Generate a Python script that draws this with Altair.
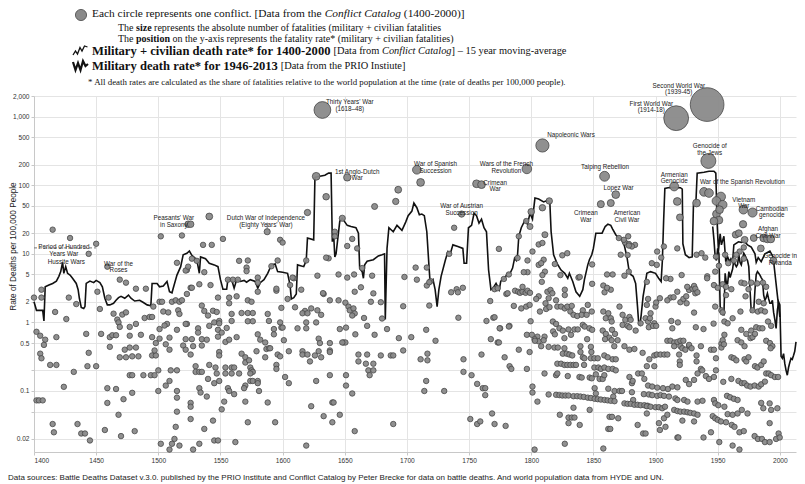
import altair as alt
import pandas as pd

# ---------------- data ----------------
# Large / labelled conflicts: (year, death rate per 100,000, fatalities in millions)
major = [
    (1941.5, 1500, 66), (1916.6, 950, 35), (1632, 1250, 15), (1809, 380, 8.6),
    (1942.5, 226, 11.6), (1796.5, 173, 3.7), (1859, 135, 4.0), (1708, 168, 2.7),
    (1652, 130, 1.4), (1627, 135, 1.8), (1711, 110, 1.8), (1915, 96, 2.9),
    (1939, 80, 2.7), (1943, 77, 2.7), (1970.7, 44, 2.7), (1978, 40, 3.2),
    (1744, 38, 0.6), (1756, 105, 1.8), (1760, 102, 1.8), (1856, 53, 1.2),
    (1864, 55, 1.2), (1868, 73, 1.8), (1541, 35, 1.0), (1524, 27, 0.8), (1526, 27, 0.8),
    (1693, 86, 1.0), (1691, 58, 0.6), (1674, 49, 0.4), (1635, 68, 0.8), (1620, 40, 0.6),
    (1648, 33, 0.5), (1800, 41, 0.8), (1814.5, 59, 0.7), (1809, 47, 0.7),
    (1917.5, 58, 1.8), (1919.6, 34, 1.0), (1933, 55, 1.8), (1949, 59, 2.7),
    (1952.6, 68, 3.2), (1954, 52, 2.7), (1949, 38, 1.8), (1951.5, 44, 1.8),
    (1951, 31, 1.8), (1947, 30, 1.8), (1970.4, 27, 1.4), (1964.5, 19, 1.0),
    (1967, 20, 1.0), (1987, 17, 1.8), (1990, 16.5, 1.8), (1992.7, 16.5, 1.8),
    (1984.7, 12, 1.0), (1994.8, 8, 1.0), (1979, 17, 1.0), (1971.7, 16, 1.0),
    (1587.6, 21, 0.5), (1799, 25, 0.4), (1811, 19, 0.4),
]

# Small conflicts: (year, death rate per 100,000)
minor_1400s = [
    (1450, 14), (1444, 10), (1515, 7.4), (1523, 5.8), (1469, 4.2), (1474, 3.8), (1459, 6.5),
    (1406, 3), (1400, 2.3), (1406, 2.3), (1428, 2.3), (1451, 2.8), (1460, 2.3), (1482, 3.1),
    (1490, 3.1), (1434, 1.85), (1417, 1.42), (1426, 1.12), (1453, 1.57), (1464, 1.34),
    (1471, 1.3), (1474, 1.4), (1467, 1.1), (1468, 1.0), (1469, 0.86), (1477, 0.86),
    (1482, 0.95), (1489, 1.16), (1493, 1.2), (1495, 1.2), (1496, 1.7), (1501, 2), (1503, 2),
    (1511, 2), (1514, 2.1), (1517, 2), (1519, 2.1), (1504, 1.44), (1508, 1.4), (1516, 1.5),
    (1517, 1.33), (1501, 0.8), (1507, 0.95), (1505, 0.9), (1515, 0.78), (1523, 0.95),
    (1402, 0.73), (1405, 0.64), (1409, 0.56), (1408, 0.47), (1418, 0.61), (1442, 0.68),
    (1454, 0.68), (1461, 0.61), (1463, 0.65), (1466, 0.65), (1477, 0.64), (1486, 0.66),
    (1495, 0.61), (1501, 0.58), (1509, 0.6), (1461, 0.44), (1473, 0.4), (1477, 0.43),
    (1482, 0.43), (1405, 0.35), (1406, 0.3), (1469, 0.31), (1474, 0.31), (1479, 0.32),
    (1484, 0.32), (1495, 0.33), (1498, 0.33), (1497, 0.39), (1498, 0.5), (1506, 0.48),
    (1509, 0.4), (1520, 0.46), (1444, 0.36), (1413, 0.24), (1418, 0.24), (1443, 0.23),
    (1450, 0.23), (1432, 0.19), (1477, 0.17), (1479, 0.17), (1488, 0.17), (1494, 0.17),
    (1497, 0.17), (1500, 0.2), (1510, 0.2), (1515, 0.2), (1424, 0.115), (1459, 0.11),
    (1466, 0.107), (1500, 0.1), (1506, 0.12), (1509, 0.14), (1515, 0.1), (1515, 0.08),
    (1402, 0.073), (1404, 0.073), (1407, 0.073), (1472, 0.076), (1479, 0.094), (1459, 0.067),
    (1468, 0.045), (1515, 0.05), (1415, 0.033), (1435, 0.033), (1416, 0.025), (1438, 0.024),
    (1441, 0.024), (1445, 0.019), (1457, 0.027), (1470, 0.022), (1481, 0.026), (1514, 0.03),
    (1513, 0.02), (1502, 0.017), (1511, 0.017), (1517, 0.016), (1509, 0.014),
    (1415, 22.5), (1429, 17), (1502, 18), (1519, 18.5), (1522, 5.7), (1524, 6.5),
]

minor_1500s = [
    (1527, 8.5), (1531, 7.9), (1536, 13.5), (1543, 13.5), (1537, 5.4), (1533, 3.6),
    (1552, 16.5), (1565, 7.9), (1572, 8), (1571, 6.3), (1571, 5.6), (1556, 4.2), (1560, 4.2),
    (1564, 4.2), (1580, 4.5), (1598, 16), (1600, 14.6), (1596, 8), (1591, 6.6), (1542, 3.5),
    (1526, 3.2), (1527, 3.2), (1523, 2.6), (1580, 3.8), (1580, 2.8), (1595, 2.9), (1595, 3.1),
    (1557, 2.3), (1557, 1.9), (1548, 2.3), (1563, 2.4), (1572, 2.1), (1575, 2.0), (1599, 1.63),
    (1535, 1.76), (1537, 1.47), (1540, 1.26), (1544, 1.48), (1547, 1.42), (1559, 1.33),
    (1559, 1.05), (1567, 1.37), (1572, 1.37), (1576, 1.37), (1572, 1.04), (1576, 1.04),
    (1588, 1.33), (1589, 1.05), (1598, 1.0), (1522, 0.95), (1532, 0.82), (1532, 0.71),
    (1541, 0.89), (1545, 1.0), (1549, 1.05), (1549, 0.97), (1548, 0.78), (1555, 0.83),
    (1551, 0.71), (1548, 0.62), (1593, 0.8), (1593, 0.67), (1599, 0.84), (1580, 0.67),
    (1582, 0.56), (1586, 0.51), (1587, 0.41), (1589, 0.42), (1590, 0.42), (1579, 0.38),
    (1586, 0.31), (1596, 0.34), (1598, 0.32), (1522, 0.57), (1527, 0.57), (1535, 0.57),
    (1539, 0.56), (1535, 0.46), (1522, 0.4), (1526, 0.34), (1528, 0.45), (1549, 0.37),
    (1549, 0.33), (1554, 0.52), (1557, 0.56), (1563, 0.61), (1567, 0.35), (1570, 0.31),
    (1570, 0.26), (1573, 0.28), (1574, 0.22), (1575, 0.2), (1576, 0.19), (1574, 0.18),
    (1530, 0.23), (1530, 0.19), (1533, 0.19), (1535, 0.19), (1541, 0.24), (1546, 0.22),
    (1547, 0.18), (1554, 0.22), (1554, 0.18), (1559, 0.22), (1561, 0.22), (1559, 0.18),
    (1565, 0.18), (1540, 0.15), (1545, 0.13), (1549, 0.14), (1533, 0.11), (1534, 0.095),
    (1539, 0.083), (1556, 0.11), (1557, 0.1), (1561, 0.09), (1570, 0.12), (1569, 0.11),
    (1574, 0.14), (1576, 0.14), (1580, 0.14), (1580, 0.13), (1581, 0.1), (1570, 0.07),
    (1588, 0.068), (1595, 0.24), (1595, 0.21), (1526, 0.067), (1526, 0.059), (1553, 0.07),
    (1551, 0.054), (1526, 0.039), (1544, 0.037), (1572, 0.035), (1594, 0.035), (1537, 0.028),
    (1533, 0.017), (1545, 0.019), (1548, 0.019), (1562, 0.018), (1528, 0.014),
]

minor_1600s = [
    (1637, 8.6), (1628, 4.8), (1645, 5), (1609, 4.4), (1604, 2.2), (1610, 1.66), (1615, 3),
    (1633, 2.6), (1638, 2.1), (1645, 2.1), (1618, 1.47), (1616, 1.36), (1620, 1.36),
    (1623, 1.6), (1628, 1.5), (1631, 1.29), (1612, 0.82), (1619, 0.82), (1619, 1.0),
    (1627, 1.0), (1600, 0.84), (1646, 0.8), (1649, 0.51), (1629, 0.58), (1630, 0.5),
    (1638, 0.5), (1638, 0.39), (1638, 0.37), (1601, 0.55), (1605, 0.38), (1616, 0.38),
    (1616, 0.34), (1620, 0.34), (1626, 0.33), (1629, 0.38), (1631, 0.31), (1622, 0.27),
    (1602, 0.16), (1605, 0.13), (1627, 0.14), (1638, 0.17), (1651, 0.17), (1640, 0.068),
    (1641, 0.068), (1623, 0.06), (1633, 0.043), (1640, 0.035), (1646, 0.045), (1619, 0.016),
    (1632.5, 2.67), (1606, 3.5), (1608, 4.5), (1619, 8), (1642, 21), (1642, 18), (1635, 8.8),
    (1652, 13), (1656, 16.5), (1660, 12), (1652, 4.5), (1657.5, 5), (1664, 6.2), (1672, 4.8),
    (1698, 4.6), (1658, 2.8), (1663, 3.25), (1650.5, 1.94), (1653, 1.7), (1654, 1.5),
    (1657, 1.6), (1658, 1.35), (1656, 1.26), (1671, 2), (1673, 2.65), (1679, 1.97),
    (1665.5, 1.16), (1668, 0.89), (1680, 1.14), (1684, 0.8), (1697, 1.72), (1651, 0.84),
    (1650.5, 0.51), (1648, 0.51), (1658.5, 0.67), (1674, 0.66), (1693.5, 0.59), (1697, 0.39),
    (1661, 0.34), (1661, 0.27), (1668, 0.34), (1667, 0.25), (1673, 0.25), (1679, 0.33),
    (1687, 0.33), (1689, 0.33), (1669, 0.2), (1673, 0.2), (1670, 0.17), (1651, 0.12),
    (1656, 0.092), (1658, 0.026), (1689, 0.033),
]

minor_1700s = [
    (1707, 6.3), (1708, 4.2), (1716, 6.3), (1719, 4), (1738, 24), (1734, 10), (1774, 11.8),
    (1790, 18), (1789, 8.7), (1797, 8), (1797, 5.4), (1778, 4.3), (1782, 5), (1796, 30),
    (1716, 3.45), (1718, 3.85), (1718, 1.76), (1703.5, 0.61), (1715.5, 0.78), (1723, 0.54),
    (1711, 0.29), (1716.5, 0.35), (1716.5, 0.28), (1715.5, 0.14), (1714, 0.1), (1730, 0.1),
    (1745.5, 0.29), (1745.5, 0.19), (1752, 0.17), (1756.5, 0.127), (1761, 0.11), (1763, 0.11),
    (1763, 0.087), (1760, 0.34), (1764, 1.05), (1769.5, 1.17), (1767, 2.05), (1767.5, 0.57),
    (1773, 0.51), (1770.5, 3.05), (1751, 0.039), (1756.5, 0.033), (1759, 0.036),
    (1768.5, 0.047), (1770.5, 0.033), (1735.6, 2.75), (1740, 3.05), (1741, 2.75), (1745, 3.2),
    (1741.4, 1.17), (1780, 2.6), (1775, 0.82), (1782.5, 0.89), (1773, 3.15), (1781, 2.66),
    (1787, 2.9), (1789.5, 2.8), (1791, 2.7), (1793, 2.8), (1795.5, 2.7), (1797, 2.9),
    (1799, 2.7), (1793, 3.3), (1794, 5.4), (1786, 1.74), (1792, 1.6), (1796, 1.7),
    (1798.7, 1.8), (1774.6, 0.82), (1782, 0.87), (1770.5, 1.19), (1799.5, 1.04),
    (1796.5, 0.66), (1779.4, 0.031), (1774, 0.51), (1778.6, 0.31), (1782.6, 0.23),
    (1784, 0.21), (1790, 0.4), (1796.5, 0.21), (1798.7, 0.37),
]

minor_1800s = [
    (1801, 10.8), (1806, 13.7), (1809, 14.4), (1810, 8.2), (1806, 6.9), (1808, 7.3),
    (1811, 5.5), (1809, 4.9), (1819, 7.1), (1825, 9.5), (1829, 10.2), (1823.5, 4.9),
    (1838, 4.5), (1849, 7), (1849, 3.65), (1858, 3.45), (1861, 5), (1865.5, 5), (1864, 3),
    (1859, 2.75), (1875.5, 14.6), (1878.6, 13.9), (1883.5, 13.5), (1881, 12.8),
    (1877.5, 9.6), (1806, 2.4), (1804, 2.2), (1808.5, 3.9), (1813, 2.8), (1815.5, 2.97),
    (1817, 2.66), (1811.5, 1.9), (1814, 2.25), (1812, 1.57), (1814.7, 1.67), (1807, 1.44),
    (1820, 2.1), (1821, 1.7), (1824, 1.7), (1827, 1.6), (1829, 1.7), (1832.6, 1.74),
    (1827, 2.5), (1827, 3), (1831.5, 1.44), (1834, 1.29), (1837, 1.24), (1841.5, 1.5),
    (1840.6, 1.29), (1845.5, 1.8), (1848.7, 1.44), (1844.6, 1.29), (1858, 1.44),
    (1860, 1.15), (1862, 1.36), (1864, 1.15), (1864.7, 1.03), (1871, 1.7), (1873.5, 1.29),
    (1875.7, 1.09), (1879, 1.2), (1880, 1.09), (1873.5, 0.92), (1877.5, 0.89), (1879, 0.85),
    (1884, 0.76), (1892, 1.15), (1894, 1.03), (1817.4, 1.03), (1820, 0.95), (1822.7, 0.82),
    (1825.4, 0.76), (1830, 0.79), (1834.8, 0.79), (1837.4, 0.79), (1841.5, 0.92),
    (1843, 0.87), (1846.8, 0.82), (1849, 0.78), (1845, 0.57), (1817.6, 0.74), (1819, 0.67),
    (1826.7, 0.59), (1832, 0.66), (1805, 0.62), (1810.7, 0.62), (1802.7, 0.57),
    (1806, 0.53), (1808, 0.45), (1810, 0.55), (1814, 0.44), (1818.7, 0.43), (1821.4, 0.43),
    (1826.7, 0.42), (1825.4, 0.35), (1828.6, 0.35), (1830.7, 0.34), (1833, 0.33),
    (1839.6, 0.45), (1839.6, 0.37), (1848, 0.44), (1848.4, 0.37), (1841.5, 0.31),
    (1842.8, 0.3), (1848, 0.3), (1850.8, 0.3), (1853.5, 0.3), (1857.5, 0.76), (1860, 0.68),
    (1862.8, 0.6), (1864.7, 0.55), (1859.4, 0.57), (1865, 0.78), (1867.4, 0.68),
    (1869.5, 0.55), (1866.8, 0.45), (1858.8, 0.33), (1861.5, 0.31), (1865.5, 0.29),
    (1868, 0.29), (1875, 0.45), (1879, 0.4), (1883, 0.41), (1889.6, 0.36), (1893, 0.23),
    (1895, 0.29), (1821, 0.25), (1824, 0.25), (1826.7, 0.24), (1829, 0.24), (1831.5, 0.24),
    (1834, 0.24), (1836, 0.24), (1842.5, 0.24), (1820, 0.17), (1829.4, 0.165),
    (1838.8, 0.16), (1840.6, 0.157), (1847, 0.157), (1848.7, 0.153), (1850.8, 0.22),
    (1854, 0.22), (1856, 0.21), (1858.8, 0.22), (1862, 0.21), (1865.5, 0.21), (1868, 0.2),
    (1852, 0.175), (1855, 0.15), (1857.5, 0.15), (1858.8, 0.17), (1879, 0.16), (1881, 0.13),
    (1881.6, 0.14), (1886, 0.18), (1889, 0.18), (1862, 0.108), (1866, 0.083), (1867, 0.1),
    (1871, 0.1), (1873, 0.1), (1851, 0.11), (1852, 0.092), (1810.7, 0.18), (1821, 0.18),
    (1801, 0.116), (1801, 0.095), (1805, 0.07), (1881, 0.096), (1882, 0.074),
    (1814, 0.089), (1820, 0.088), (1822.7, 0.087), (1825, 0.086), (1827.5, 0.086),
    (1830, 0.086), (1834, 0.084), (1837, 0.084), (1839.6, 0.083), (1842.3, 0.082),
    (1845.5, 0.08), (1848, 0.079), (1851, 0.077), (1853.5, 0.076), (1856, 0.075),
    (1859, 0.074), (1861.5, 0.073), (1864, 0.072), (1867, 0.071), (1875, 0.066),
    (1877.5, 0.065), (1880, 0.065), (1883, 0.063), (1885.5, 0.063), (1888, 0.062),
    (1891, 0.062), (1893.6, 0.061), (1834, 0.057), (1847, 0.053), (1823, 0.045),
    (1830, 0.041), (1832.6, 0.041), (1834.8, 0.041), (1830, 0.034), (1839, 0.032),
    (1863, 0.042), (1865, 0.042), (1870, 0.04), (1862, 0.028), (1863.6, 0.028),
    (1827, 0.017), (1802.7, 0.014), (1858, 0.0145), (1885.6, 0.032), (1890, 0.024),
    (1892, 0.024), (1800.5, 0.66), (1803, 0.54), (1878, 18), (1874.5, 16), (1870.5, 17),
    (1878.5, 13.2), (1872, 9.7), (1839, 4.6), (1861, 3.2), (1875, 4.8), (1878.5, 5.5),
    (1893, 3.9), (1888, 0.97), (1895.5, 1.15), (1899, 0.97), (1893, 1.8), (1896, 1.36),
    (1900, 1.7), (1897, 7.3), (1894, 2.2), (1894.6, 0.85), (1898, 0.89), (1891, 0.15),
    (1894, 0.12), (1897.3, 0.116), (1890.6, 0.09), (1894.6, 0.089), (1897.3, 0.087),
    (1893, 0.06), (1896, 0.059), (1893, 0.047), (1899, 0.33), (1899, 0.23),
]

minor_1900s = [
    (1906.7, 12.8), (1901.3, 10.8), (1904.6, 8.8), (1901, 6.9), (1921, 4.9), (1912, 4.3),
    (1933, 9.7), (1937, 10.2), (1940, 8.8), (1948.6, 9.1), (1956, 9.7), (1958.5, 7.3),
    (1967.7, 10.8), (1941.6, 4.7), (1917.5, 12), (1900.5, 1.95), (1912, 2.3), (1920, 1.97),
    (1922.4, 2.2), (1925, 1.9), (1927, 2.97), (1929.7, 3.1), (1932, 2.66), (1931, 1.39),
    (1912.7, 1.05), (1918, 1.0), (1900.5, 0.89), (1913.5, 0.82), (1932.4, 0.85),
    (1938.6, 0.8), (1946.7, 0.96), (1948, 1.7), (1948, 5.5), (1951, 6.7), (1963, 8),
    (1965, 9.7), (1971, 12.4), (1971, 8.5), (1954, 3.6), (1956.7, 3.3), (1961, 3.05),
    (1956.7, 2.5), (1953, 1.5), (1954, 1.4), (1955.4, 1.03), (1958, 0.97), (1962, 1.15),
    (1969, 3.8), (1971.6, 3.7), (1974.8, 3.05), (1977, 3.8), (1981.8, 3.7), (1986.4, 3.8),
    (1989, 3.3), (1972.4, 2.4), (1983, 2.0), (1987, 1.9), (1978, 1.5), (1982.3, 1.44),
    (1985, 1.5), (1988, 1.44), (1968.3, 1.44), (1990.5, 1.03), (1993, 0.89), (1969, 0.78),
    (1973, 0.68), (1977, 0.76), (1981, 0.85), (1983.7, 0.82), (1986, 0.82), (1955.4, 0.66),
    (1966, 0.55), (1969, 0.51), (1971.6, 0.45), (1976.4, 0.59), (1978, 0.61), (1980, 0.68),
    (1989, 0.54), (1992, 0.5), (1994, 0.45), (1992.6, 0.42), (1909.5, 0.54), (1912, 0.54),
    (1915, 0.51), (1917.6, 0.52), (1920, 0.54), (1922.4, 0.54), (1915, 0.45), (1920, 0.45),
    (1927, 0.45), (1936.5, 0.45), (1944.6, 0.4), (1953, 0.49), (1953, 0.43), (1901, 0.34),
    (1904, 0.34), (1907, 0.34), (1909.5, 0.34), (1919, 0.34), (1919.5, 0.27), (1919.5, 0.24),
    (1936.5, 0.21), (1940.5, 0.165), (1943, 0.15), (1947, 0.16), (1948.6, 0.2),
    (1948.6, 0.3), (1961, 0.31), (1963, 0.3), (1965, 0.28), (1971.6, 0.29), (1973, 0.27),
    (1974.8, 0.31), (1980, 0.23), (1982, 0.22), (1985, 0.24), (1987, 0.27), (1989, 0.18),
    (1991, 0.18), (1993, 0.17), (1996, 0.16), (1998.6, 0.16), (1954.5, 0.136), (1961, 0.15),
    (1966.7, 0.14), (1969.4, 0.13), (1971.6, 0.13), (1973.7, 0.12), (1976.4, 0.116),
    (1979.7, 0.12), (1983, 0.116), (1985, 0.125), (1988, 0.137), (1901.4, 0.112),
    (1906, 0.11), (1910, 0.107), (1913.5, 0.116), (1917.6, 0.113), (1901.4, 0.085),
    (1904, 0.087), (1906.8, 0.085), (1910.8, 0.083), (1916, 0.078), (1917.6, 0.074),
    (1923, 0.074), (1925.7, 0.07), (1933.8, 0.07), (1937.8, 0.072), (1947, 0.074),
    (1948, 0.066), (1950.5, 0.062), (1955.4, 0.059), (1957.5, 0.085), (1960, 0.081),
    (1963, 0.077), (1966, 0.074), (1969.4, 0.053), (1974, 0.047), (1900, 0.058),
    (1902.7, 0.058), (1905.4, 0.056), (1907.6, 0.059), (1915, 0.053), (1917.6, 0.051),
    (1920, 0.05), (1923, 0.05), (1925.7, 0.049), (1928, 0.048), (1931, 0.047),
    (1933.8, 0.045), (1902.7, 0.034), (1906.8, 0.04), (1909.5, 0.045), (1908, 0.03),
    (1921.6, 0.037), (1931, 0.036), (1946, 0.043), (1948, 0.04), (1950, 0.038),
    (1952.6, 0.036), (1956.7, 0.035), (1961.3, 0.032), (1963.5, 0.03), (1967.5, 0.025),
    (1971, 0.026), (1958, 0.046), (1962, 0.045), (1966, 0.047), (1938.6, 0.021),
    (1944.6, 0.025), (1951.3, 0.018), (1962, 0.016), (1967.5, 0.014), (1979.7, 0.022),
    (1982.4, 0.02), (1985.6, 0.02), (1988, 0.018), (1991.8, 0.018), (1997, 0.02),
    (1999, 0.024), (1999.9, 0.021), (1991.8, 0.034), (1985, 0.067), (1986.7, 0.056),
    (1991.8, 0.066), (1998, 0.056), (1993, 0.053), (1917.6, 0.021), (1918.4, 0.021),
    (1903.5, 0.027), (1933.8, 0.18), (1931, 0.145), (1924.3, 0.145), (1927, 0.126),
    (1914.5, 2.33), (1925.5, 3.3), (1931, 3.4), (1932, 3.1), (1933.7, 2.75), (1924.7, 2.4),
    (1917.5, 2.8), (1903.5, 2.25), (1909.5, 2.1), (1941.5, 4.4), (1947, 3.5), (1950, 3.2),
    (1908.5, 4.4), (1921.5, 0.42), (1924, 0.4), (1927, 0.47), (1929, 0.42), (1937.6, 0.2),
    (1933, 0.27), (1933, 0.33), (1947, 0.4), (1954, 0.55), (1955, 0.48),
]

# 15-year moving average, Conflict Catalog (year, rate)
moving_avg = [
    (1400, 2.0), (1402, 1.5), (1407, 1.5), (1408, 1.05), (1409, 3.3), (1412, 3.5), (1415, 3.7),
    (1418, 4.0), (1420, 4.7), (1421.5, 5.5), (1423, 7.5), (1424, 5.2), (1425.5, 6.5),
    (1427, 5.2), (1429, 4.9), (1431, 4.4), (1434, 3.7), (1435.5, 3.0), (1436.5, 2.25),
    (1438, 1.65), (1440, 1.6), (1441, 1.7), (1442, 3.7), (1445, 4.0), (1448, 3.8),
    (1450, 4.1), (1453, 3.8), (1455, 3.3), (1457, 2.25), (1459, 1.8), (1461, 1.8),
    (1464, 1.9), (1466, 2.1), (1468, 2.3), (1470, 2.4), (1473, 2.25), (1476, 2.5),
    (1478, 2.25), (1481, 2.05), (1485, 2.1), (1488, 1.95), (1491, 1.8), (1494, 1.75),
    (1495, 3.7), (1499, 3.7), (1501, 3.3), (1504, 3.4), (1507, 3.95), (1509, 2.8),
    (1511, 2.7), (1512, 3.15), (1515, 4.9), (1518, 6.5), (1520, 9.7), (1523, 10.2),
    (1525, 11), (1527, 9.5), (1531, 8.2), (1533, 5.2), (1534, 9.0), (1538, 8.5),
    (1541, 7.3), (1545, 6.9), (1548, 6.5), (1550, 4.2), (1552, 3.05), (1555, 3.05),
    (1556, 4.2), (1559, 4.2), (1561, 3.15), (1563, 4.2), (1566, 3.95), (1569, 4.1),
    (1571, 3.85), (1574, 4.2), (1578, 3.95), (1580, 3.15), (1582, 3.8), (1585, 4.2),
    (1588, 5.2), (1591, 6.9), (1594, 7.1), (1596, 5.5), (1600, 5.4), (1604, 5.2),
    (1606, 3.5), (1607, 2.2), (1609, 2.3), (1611, 2.6), (1612, 6.9), (1617, 6.5),
    (1619, 8.0), (1620, 17), (1625, 16), (1626, 130), (1630, 135), (1634, 140),
    (1637, 150), (1639, 150), (1640, 15), (1641, 20), (1642, 9), (1643, 10), (1646, 30),
    (1648, 33), (1649, 31), (1652, 26), (1655, 25), (1659, 24), (1661, 20), (1662, 6.1),
    (1664, 5.5), (1665, 4.4), (1666, 6.9), (1668, 7.8), (1673, 8.2), (1677, 9.3),
    (1680, 9.7), (1682, 10), (1682.6, 1.1), (1684, 12), (1685.5, 24), (1689, 21),
    (1692, 26), (1696, 22), (1699, 29), (1701, 36), (1704, 42), (1705.6, 55), (1708, 47),
    (1710, 37), (1712, 38), (1714, 36), (1716, 21), (1717.6, 7.3), (1718.7, 3.7),
    (1721, 4.2), (1722.7, 3.0), (1724.3, 1.7), (1725.7, 3.0), (1727.5, 4.7), (1731, 8.2),
    (1733, 10.8), (1735, 10.2), (1737, 13.5), (1741, 12.8), (1745, 12), (1746, 7.3),
    (1748, 7.3), (1749.5, 24), (1752, 26), (1754, 39), (1756, 36), (1758, 28), (1760, 32),
    (1762, 24), (1764, 21), (1765.7, 5.8), (1767.6, 3.0), (1769, 3.1), (1771.7, 3.7),
    (1774.3, 3.0), (1775.5, 4.0), (1778.6, 4.4), (1781, 5.2), (1783, 5.2), (1785, 6.2),
    (1786.6, 8.6), (1788, 8.0), (1789, 9.7), (1790, 18), (1792, 24), (1795, 31),
    (1797, 27), (1799, 39), (1801, 32), (1803, 65), (1806, 63), (1810, 57), (1813, 60),
    (1815, 55), (1816, 21), (1818, 9.7), (1821, 7.1), (1824, 5.8), (1827, 5.2),
    (1829.4, 4.4), (1830.7, 5.2), (1833.4, 3.95), (1836, 2.8), (1839, 2.4), (1841.5, 3.0),
    (1842.8, 4.2), (1845.5, 6.9), (1846.8, 8.2), (1848.7, 9.7), (1850, 12), (1852, 20),
    (1857, 20), (1859.5, 25), (1861.7, 27), (1864, 26), (1865.5, 23), (1868, 19),
    (1870.4, 17), (1873, 16), (1875, 13), (1877, 9), (1878.5, 6), (1880, 5), (1882, 4.7),
    (1884, 3.7), (1885.5, 1.7), (1886.5, 0.95), (1887.5, 0.92), (1888.5, 1.3), (1890, 2.4),
    (1891.5, 3.5), (1893, 5.2), (1896, 5.5), (1900, 5.2), (1902.5, 4.4), (1904.5, 3.95),
    (1905.5, 8), (1906.5, 30), (1907.5, 90), (1910, 92), (1915, 93), (1920, 92),
    (1921.5, 88), (1922, 14), (1924, 9.7), (1927, 8.8), (1929.5, 9), (1930.5, 52),
    (1932.5, 57), (1933.5, 150), (1939, 155), (1943, 160), (1947, 160), (1948.5, 150),
    (1949.5, 30), (1950.6, 11), (1952, 19.6), (1953, 13.5), (1955, 18), (1956.5, 7.7),
    (1958, 9), (1959.5, 7.7), (1960.7, 8.5), (1962, 7.7), (1963, 13.5), (1966.7, 15),
    (1969, 14.7), (1971.7, 15), (1974, 13.5), (1977, 12.5), (1980, 10), (1981, 7.5),
    (1982.6, 8.8), (1985, 7.7), (1988, 10), (1992, 11), (1994.6, 9), (1996, 5.3),
    (1998, 2.5), (2000, 1.2),
]

# Military death rate, PRIO (year, rate)
prio = [
    (1946, 25), (1947, 16), (1948, 9), (1949, 8), (1950, 12), (1951, 10), (1952, 1.7),
    (1953, 1.5), (1954, 1.3), (1955, 1.29), (1956, 5.2), (1957, 3.7), (1958, 3.7),
    (1959, 5.5), (1960, 4.5), (1961, 5.2), (1962, 6), (1963, 8.2), (1964, 7), (1965, 6.5),
    (1966, 7), (1967, 9.7), (1968, 7.5), (1969, 6.9), (1970, 8.5), (1971, 10.2),
    (1972, 9.5), (1973, 8.6), (1974, 8), (1975, 6.5), (1976, 3), (1977, 1.44), (1978, 1.5),
    (1979, 1.5), (1980, 3), (1981, 5), (1982, 5.5), (1983, 5.2), (1984, 4.9), (1985, 4.5),
    (1986, 4.2), (1987, 2.5), (1988, 2.1), (1989, 2.3), (1990, 2.65), (1991, 2.2),
    (1992, 1.9), (1993, 1.9), (1994, 2.1), (1995, 1.4), (1996, 1.1), (1997, 0.82),
    (1998, 1.5), (1999, 2), (2000, 1.8), (2001, 0.32), (2002, 0.3), (2003, 0.35),
    (2004, 0.25), (2005, 0.2), (2006, 0.17), (2007, 0.22), (2008, 0.26), (2009, 0.3),
    (2010, 0.29), (2011, 0.33), (2012, 0.38), (2013, 0.52),
]

# Conflict labels: (text, year, rate) – centre of the text block
labels = [
    ("Period of Hundred\nYears War", 1424, 12.4),
    ("Hussite Wars", 1426, 7.6),
    ("War of the\nRoses", 1468, 7.2),
    ("Peasants' War\nin Saxony", 1512.5, 32.8),
    ("Dutch War of Independence\n(Eighty Years' War)", 1586.6, 32.8),
    ("Thirty Years' War\n(1618–48)", 1654, 1611),
    ("1st Anglo-Dutch\nWar", 1660, 156),
    ("War of Spanish\nSuccession", 1723, 201),
    ("Wars of the French\nRevolution", 1780, 202),
    ("Crimean\nWar", 1771, 109),
    ("War of Austrian\nSuccession", 1744, 49.7),
    ("Napoleonic Wars", 1832, 533),
    ("Second World War\n(1939-45)", 1918.7, 2836),
    ("First World War\n(1914-18)", 1896.6, 1532),
    ("Genocide of\nthe Jews", 1943.6, 368),
    ("Taiping Rebellion", 1859.4, 182),
    ("Lopez War", 1870.2, 91),
    ("Crimean\nWar", 1844, 39),
    ("American\nCivil War", 1877, 39),
    ("Armenian\nGenocide", 1915, 141),
    ("War of the Spanish Revolution", 1969.8, 110),
    ("Vietnam\nWar", 1971, 61.8),
    ("Cambodian\ngenocide", 1993.5, 45.4),
    ("Afghan\nCivil War", 1990.5, 22.8),
    ("Genocide in\nRwanda", 2000.3, 9.25),
]

y_ticks = [0.02, 0.05, 0.1, 0.2, 0.5, 1, 2, 5, 10, 20, 50, 100, 200, 500, 1000, 2000]
x_ticks = [1400, 1450, 1500, 1550, 1600, 1650, 1700, 1750, 1800, 1850, 1900, 1950, 2000]

header = [  # (page y, page x, [(text, style, font size)])
    (14, 92, [("Each circle represents one conflict. [Data from the ", "normal", 11.4),
              ("Conflict Catalog", "italic", 11.4), (" (1400-2000)]", "normal", 11.4)]),
    (27.5, 118, [("The ", "normal", 10), ("size", "bold", 10),
                 (" represents the absolute number of fatalities (military + civilian fatalities", "normal", 10)]),
    (38.5, 118, [("The ", "normal", 10), ("position", "bold", 10),
                 (" on the y-axis represents the fatality rate* (military + civilian fatalities)", "normal", 10)]),
    (51, 92, [("Military + civilian death rate* for 1400-2000", "bold", 12.6),
              (" [Data from ", "normal", 10.4), ("Conflict Catalog", "italic", 10.4),
              ("] – 15 year moving-average", "normal", 10.4)]),
    (66, 92, [("Military death rate* for 1946-2013", "bold", 12.6),
              (" [Data from the PRIO Instiute]", "normal", 10.4)]),
    (82, 88, [("* All death rates are calculated as the share of fatalities relative to the world "
               "population at the time (rate of deaths per 100,000 people).", "normal", 8.9)]),
]
caption = ("Data sources: Battle Deaths Dataset v.3.0. published by the PRIO Institute and Conflict "
           "Catalog by Peter Brecke for data on battle deaths. And world population data from HYDE and UN.")

# ---------------- layout helpers ----------------
W, H = 762, 356
PAD = {"left": 26, "top": 88, "right": 1, "bottom": 31}
OX, OY = 8 + PAD["left"], 8 + PAD["top"]   # page position of the plot origin

REG = {' ': 250, '(': 333, ')': 333, '*': 500, '+': 564, ',': 250, '-': 333, '.': 250,
       '[': 333, ']': 333, '–': 500, 'A': 722, 'C': 667, 'D': 722, 'E': 611, 'I': 333,
       'M': 889, 'O': 722, 'P': 556, 'R': 667, 'T': 611, 'a': 444, 'b': 500, 'c': 444,
       'd': 500, 'e': 444, 'f': 333, 'g': 500, 'h': 500, 'i': 278, 'j': 278, 'k': 500,
       'l': 278, 'm': 778, 'n': 500, 'o': 500, 'p': 500, 'q': 500, 'r': 333, 's': 389,
       't': 278, 'u': 500, 'v': 500, 'w': 722, 'x': 500, 'y': 500, 'z': 444}
BOLD = {' ': 250, '*': 500, '+': 570, '-': 333, 'M': 944, 'a': 500, 'b': 556, 'c': 444,
        'd': 556, 'e': 444, 'f': 333, 'g': 500, 'h': 556, 'i': 278, 'l': 278, 'm': 833,
        'n': 556, 'o': 500, 'p': 556, 'r': 444, 's': 389, 't': 333, 'u': 556, 'v': 500,
        'y': 500, 'z': 444}
ITAL = {' ': 250, 'C': 667, 'a': 500, 'c': 444, 'f': 278, 'g': 500, 'i': 278, 'l': 278,
        'n': 500, 'o': 500, 't': 278}
TABLES = {"normal": REG, "bold": BOLD, "italic": ITAL}


def text_width(s, style, size):
    t = TABLES[style]
    return sum(t.get(ch, 500) for ch in s) * size / 1000.0


hdr_rows = []
for py, px, segs in header:
    x = px
    for txt, style, fs in segs:
        lead = len(txt) - len(txt.lstrip())
        hdr_rows.append({"x": x + text_width(txt[:lead], style, fs) - OX, "y": py - OY,
                         "t": txt.strip(), "style": style, "fs": fs})
        x += text_width(txt, style, fs)
hdr_df = pd.DataFrame(hdr_rows)

# ---------------- frames ----------------
circ = [dict(year=y, rate=r, fat=f) for y, r, f in major]
for group in (minor_1400s, minor_1500s, minor_1600s, minor_1700s, minor_1800s, minor_1900s):
    circ += [dict(year=y, rate=r, fat=0.0) for y, r in group]
circ_df = pd.DataFrame(circ)
ma_df = pd.DataFrame(moving_avg, columns=["year", "rate"])
prio_df = pd.DataFrame(prio, columns=["year", "rate"])
lab_df = pd.DataFrame(labels, columns=["t", "year", "rate"])

xs = alt.Scale(domain=[1400, 2013], nice=False, zero=False)
ys = alt.Scale(type="log", domain=[0.0129, 2000], nice=False)
X = alt.X("year:Q", scale=xs, title=None,
          axis=alt.Axis(values=x_ticks, format="d", labelFlush=True, grid=True))
Y = alt.Y("rate:Q", scale=ys, title="Rate of Deaths per 100,000 People",
          axis=alt.Axis(values=y_ticks,
                        labelExpr="datum.value == 0.2 || datum.value == 0.05 ? '' : format(datum.value, ',')",
                        titleX=-21, titleY=150, titleAngle=270, titleBaseline="middle",
                        titleFontSize=8.2, titleFontWeight="normal", titleColor="#222"))

ma_line = alt.Chart(ma_df).mark_line(color="#111", strokeWidth=1.6).encode(x=X, y=Y)
prio_line = alt.Chart(prio_df).mark_line(color="#111", strokeWidth=1.6).encode(
    x=alt.X("year:Q", scale=xs), y=alt.Y("rate:Q", scale=ys))

circles = alt.Chart(circ_df).mark_circle(fill="#8a8a8a", stroke="#484848", strokeWidth=0.8,
                                         fillOpacity=0.95, opacity=1).encode(
    x=alt.X("year:Q", scale=xs), y=alt.Y("rate:Q", scale=ys),
    size=alt.Size("fat:Q", scale=alt.Scale(type="linear", domain=[0, 66], range=[30, 1134]),
                  legend=None),
    order=alt.Order("fat:Q", sort="descending"))

lab_text = alt.Chart(lab_df).mark_text(font="Liberation Sans", fontSize=6.3, lineHeight=6.5,
                                       lineBreak="\n", color="#222", align="center",
                                       baseline="middle").encode(
    x=alt.X("year:Q", scale=xs), y=alt.Y("rate:Q", scale=ys), text="t:N")

hundred = alt.Chart(pd.DataFrame([{"year": 1400, "year2": 1450, "rate": 12.2}])).mark_rule(
    color="#777", strokeWidth=1, strokeDash=[3, 2]).encode(
    x=alt.X("year:Q", scale=xs), x2="year2:Q", y=alt.Y("rate:Q", scale=ys))
leader = alt.Chart(pd.DataFrame([{"year": 1587.6, "rate": 28.5, "rate2": 23.5}])).mark_rule(
    color="#555", strokeWidth=0.8).encode(
    x=alt.X("year:Q", scale=xs), y=alt.Y("rate:Q", scale=ys), y2="rate2:Q")

# header texts (pixel positions)
hdr_layers = []
for (style, fs), sub in hdr_df.groupby(["style", "fs"]):
    kw = dict(font="Liberation Serif", fontSize=float(fs), align="left", baseline="middle",
              color="#111")
    if style == "bold":
        kw["fontWeight"] = "bold"
    if style == "italic":
        kw["fontStyle"] = "italic"
    hdr_layers.append(alt.Chart(sub.reset_index(drop=True)).mark_text(**kw).encode(
        x=alt.X("x:Q", scale=None, axis=None), y=alt.Y("y:Q", scale=None, axis=None),
        text="t:N"))

icon_circle = alt.Chart(pd.DataFrame([{"a": 1}])).mark_circle(
    fill="#8a8a8a", stroke="#484848", strokeWidth=0.8, opacity=1).encode(
    x=alt.value(81 - OX), y=alt.value(15 - OY), size=alt.value(125))
icon1 = pd.DataFrame({"px": [73, 75.5, 77.5, 80, 82, 84.5, 87.5],
                      "py": [55, 51, 54, 47.5, 51, 46, 47]})
icon2 = pd.DataFrame({"px": [73, 75.5, 78, 80.5, 83, 85.5, 88],
                      "py": [62, 70, 63, 70, 61, 66, 64]})
icon1["px"] -= OX; icon1["py"] -= OY
icon2["px"] -= OX; icon2["py"] -= OY
icon_l1 = alt.Chart(icon1).mark_line(color="#111", strokeWidth=1.3).encode(
    x=alt.X("px:Q", scale=None, axis=None), y=alt.Y("py:Q", scale=None, axis=None),
    order="px:Q")
icon_l2 = alt.Chart(icon2).mark_line(color="#111", strokeWidth=2.2).encode(
    x=alt.X("px:Q", scale=None, axis=None), y=alt.Y("py:Q", scale=None, axis=None),
    order="px:Q")

cap = alt.Chart(pd.DataFrame([{"t": caption}])).mark_text(
    font="Liberation Sans", fontSize=8, align="left", baseline="middle", color="#222").encode(
    x=alt.value(8 - OX), y=alt.value(478 - OY), text="t:N")

chart = alt.layer(
    ma_line, prio_line, hundred, leader, circles, lab_text,
    *hdr_layers, icon_circle, icon_l1, icon_l2, cap
).properties(
    width=W, height=H, autosize=alt.AutoSizeParams(type="none"), padding=PAD
).configure_view(stroke=None).configure_axis(
    labelFont="Liberation Sans", labelFontSize=6.6, labelColor="#333", titleFont="Liberation Sans",
    gridColor="#e4e4e4", gridWidth=1, domainColor="#c8c8c8", tickColor="#c8c8c8", tickSize=3,
    labelPadding=2
)

chart.save("out.html", embed_options={"renderer": "svg", "actions": False})
